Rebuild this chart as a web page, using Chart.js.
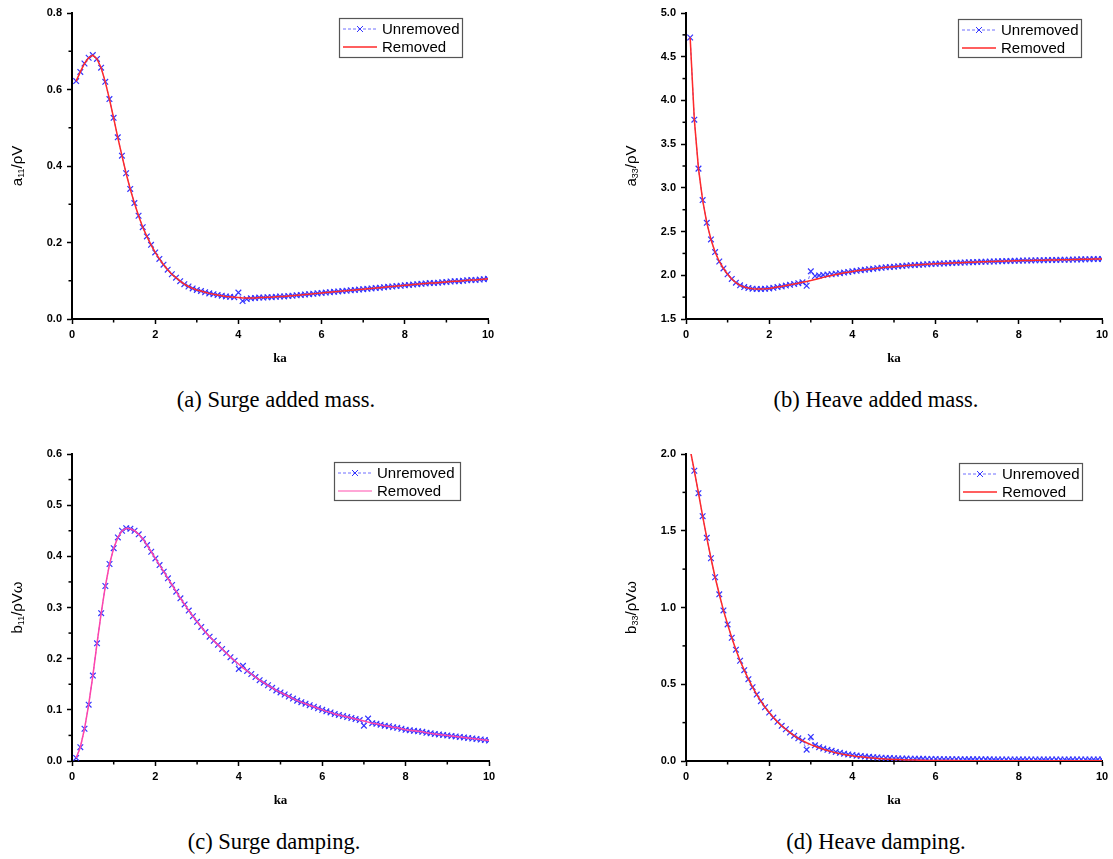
<!DOCTYPE html>
<html>
<head>
<meta charset="utf-8">
<script src="https://cdn.jsdelivr.net/npm/chart.js@4.4.0/dist/chart.umd.min.js"></script>
<style>
body { margin: 0; background: #fff; width: 1113px; height: 859px; position: relative; overflow: hidden; }
canvas { position: absolute; }
.cap { position: absolute; font-family: "Liberation Serif", "Times New Roman", serif; font-size: 22.5px; color: #000; white-space: nowrap; transform: translate(-50%, -50%); }
</style>
</head>
<body>
<canvas id="ca" width="556" height="380" style="left:0;top:0"></canvas>
<canvas id="cb" width="557" height="380" style="left:556px;top:0"></canvas>
<canvas id="cc" width="556" height="380" style="left:0;top:440px"></canvas>
<canvas id="cd" width="557" height="380" style="left:556px;top:440px"></canvas>
<div class="cap" style="left:276px;top:400px">(a) Surge added mass.</div>
<div class="cap" style="left:876px;top:400px">(b) Heave added mass.</div>
<div class="cap" style="left:274px;top:842px">(c) Surge damping.</div>
<div class="cap" style="left:876px;top:842px">(d) Heave damping.</div>
<script>
// ka 取樣點
const ka = [
  0.1, 0.2, 0.3, 0.4, 0.5, 0.6, 0.7, 0.8, 0.9, 1.0,
  1.1, 1.2, 1.3, 1.4, 1.5, 1.6, 1.7, 1.8, 1.9, 2.0,
  2.1, 2.2, 2.3, 2.4, 2.5, 2.6, 2.7, 2.8, 2.9, 3.0,
  3.1, 3.2, 3.3, 3.4, 3.5, 3.6, 3.7, 3.8, 3.9, 4.0,
  4.1, 4.2, 4.3, 4.4, 4.5, 4.6, 4.7, 4.8, 4.9, 5.0,
  5.1, 5.2, 5.3, 5.4, 5.5, 5.6, 5.7, 5.8, 5.9, 6.0,
  6.1, 6.2, 6.3, 6.4, 6.5, 6.6, 6.7, 6.8, 6.9, 7.0,
  7.1, 7.2, 7.3, 7.4, 7.5, 7.6, 7.7, 7.8, 7.9, 8.0,
  8.1, 8.2, 8.3, 8.4, 8.5, 8.6, 8.7, 8.8, 8.9, 9.0,
  9.1, 9.2, 9.3, 9.4, 9.5, 9.6, 9.7, 9.8, 9.9, 10.0
];

// (a) a11/ρV
const a11Unremoved = [
  0.622, 0.646, 0.668, 0.683, 0.690, 0.680, 0.657, 0.620, 0.575, 0.526,
  0.475, 0.427, 0.381, 0.340, 0.303, 0.270, 0.240, 0.216, 0.194, 0.174,
  0.157, 0.142, 0.129, 0.117, 0.108, 0.099, 0.091, 0.085, 0.080, 0.076,
  0.073, 0.070, 0.067, 0.065, 0.063, 0.061, 0.059, 0.058, 0.057, 0.069,
  0.047, 0.052, 0.054, 0.055, 0.056, 0.056, 0.057, 0.057, 0.058, 0.059,
  0.059, 0.060, 0.061, 0.062, 0.063, 0.064, 0.065, 0.066, 0.067, 0.068,
  0.069, 0.070, 0.071, 0.072, 0.073, 0.074, 0.075, 0.076, 0.077, 0.078,
  0.079, 0.080, 0.081, 0.082, 0.083, 0.084, 0.085, 0.086, 0.087, 0.088,
  0.089, 0.090, 0.091, 0.092, 0.093, 0.094, 0.094, 0.095, 0.096, 0.097,
  0.098, 0.099, 0.099, 0.100, 0.101, 0.102, 0.102, 0.103, 0.104, 0.105
];
const a11Removed = [
  0.622, 0.646, 0.668, 0.683, 0.690, 0.680, 0.657, 0.620, 0.575, 0.526,
  0.475, 0.427, 0.381, 0.340, 0.303, 0.270, 0.240, 0.216, 0.194, 0.174,
  0.157, 0.142, 0.129, 0.117, 0.108, 0.099, 0.091, 0.085, 0.080, 0.076,
  0.073, 0.070, 0.067, 0.065, 0.063, 0.061, 0.059, 0.058, 0.057, 0.056,
  0.055, 0.055, 0.055, 0.055, 0.056, 0.056, 0.057, 0.057, 0.058, 0.059,
  0.059, 0.060, 0.061, 0.062, 0.063, 0.064, 0.065, 0.066, 0.067, 0.068,
  0.069, 0.070, 0.071, 0.072, 0.073, 0.074, 0.075, 0.076, 0.077, 0.078,
  0.079, 0.080, 0.081, 0.082, 0.083, 0.084, 0.085, 0.086, 0.087, 0.088,
  0.089, 0.090, 0.091, 0.092, 0.093, 0.094, 0.094, 0.095, 0.096, 0.097,
  0.098, 0.099, 0.099, 0.100, 0.101, 0.102, 0.102, 0.103, 0.104, 0.105
];

// (b) a33/ρV
const a33Unremoved = [
  4.720, 3.780, 3.220, 2.860, 2.600, 2.410, 2.265, 2.158, 2.078, 2.012,
  1.958, 1.915, 1.885, 1.866, 1.854, 1.847, 1.843, 1.842, 1.845, 1.850,
  1.857, 1.865, 1.873, 1.882, 1.891, 1.900, 1.910, 1.920, 1.880, 2.045,
  1.992, 1.998, 2.004, 2.008, 2.012, 2.018, 2.024, 2.031, 2.038, 2.045,
  2.051, 2.058, 2.064, 2.070, 2.076, 2.081, 2.086, 2.091, 2.095, 2.099,
  2.103, 2.107, 2.111, 2.114, 2.117, 2.120, 2.123, 2.126, 2.129, 2.131,
  2.134, 2.136, 2.138, 2.140, 2.142, 2.144, 2.146, 2.148, 2.150, 2.152,
  2.154, 2.155, 2.157, 2.158, 2.160, 2.161, 2.163, 2.164, 2.165, 2.167,
  2.168, 2.169, 2.170, 2.171, 2.172, 2.173, 2.174, 2.175, 2.176, 2.177,
  2.178, 2.179, 2.180, 2.181, 2.182, 2.183, 2.184, 2.185, 2.186, 2.187
];
const a33Removed = [
  4.720, 3.780, 3.220, 2.860, 2.600, 2.410, 2.265, 2.158, 2.078, 2.012,
  1.958, 1.915, 1.885, 1.866, 1.854, 1.847, 1.843, 1.842, 1.845, 1.850,
  1.857, 1.865, 1.873, 1.882, 1.891, 1.900, 1.910, 1.920, 1.930, 1.940,
  1.952, 1.964, 1.976, 1.988, 1.998, 2.008, 2.018, 2.028, 2.036, 2.044,
  2.051, 2.058, 2.064, 2.070, 2.076, 2.081, 2.086, 2.091, 2.095, 2.099,
  2.103, 2.107, 2.111, 2.114, 2.117, 2.120, 2.123, 2.126, 2.129, 2.131,
  2.134, 2.136, 2.138, 2.140, 2.142, 2.144, 2.146, 2.148, 2.150, 2.152,
  2.154, 2.155, 2.157, 2.158, 2.160, 2.161, 2.163, 2.164, 2.165, 2.167,
  2.168, 2.169, 2.170, 2.171, 2.172, 2.173, 2.174, 2.175, 2.176, 2.177,
  2.178, 2.179, 2.180, 2.181, 2.182, 2.183, 2.184, 2.185, 2.186, 2.187
];

// (c) b11/ρVω
const b11Unremoved = [
  0.006, 0.027, 0.063, 0.110, 0.167, 0.230, 0.289, 0.342, 0.385, 0.416,
  0.437, 0.450, 0.455, 0.454, 0.450, 0.443, 0.434, 0.422, 0.409, 0.396,
  0.383, 0.370, 0.357, 0.344, 0.331, 0.318, 0.306, 0.294, 0.283, 0.272,
  0.262, 0.252, 0.243, 0.235, 0.227, 0.219, 0.211, 0.203, 0.196, 0.180,
  0.186, 0.176, 0.170, 0.164, 0.158, 0.153, 0.148, 0.143, 0.138, 0.134,
  0.130, 0.126, 0.122, 0.118, 0.115, 0.112, 0.109, 0.106, 0.103, 0.100,
  0.097, 0.095, 0.092, 0.090, 0.088, 0.086, 0.084, 0.082, 0.080, 0.069,
  0.083, 0.074, 0.073, 0.071, 0.069, 0.068, 0.066, 0.065, 0.063, 0.061,
  0.060, 0.059, 0.058, 0.057, 0.055, 0.054, 0.053, 0.052, 0.051, 0.050,
  0.049, 0.048, 0.047, 0.046, 0.045, 0.044, 0.043, 0.042, 0.041, 0.040
];
const b11Removed = [
  0.006, 0.027, 0.063, 0.110, 0.167, 0.230, 0.289, 0.342, 0.385, 0.416,
  0.437, 0.450, 0.455, 0.454, 0.450, 0.443, 0.434, 0.422, 0.409, 0.396,
  0.383, 0.370, 0.357, 0.344, 0.331, 0.318, 0.306, 0.294, 0.283, 0.272,
  0.262, 0.252, 0.243, 0.235, 0.227, 0.219, 0.211, 0.203, 0.196, 0.189,
  0.182, 0.176, 0.170, 0.164, 0.158, 0.153, 0.148, 0.143, 0.138, 0.134,
  0.130, 0.126, 0.122, 0.118, 0.115, 0.112, 0.109, 0.106, 0.103, 0.100,
  0.097, 0.095, 0.092, 0.090, 0.088, 0.086, 0.084, 0.082, 0.080, 0.078,
  0.076, 0.074, 0.073, 0.071, 0.069, 0.068, 0.066, 0.065, 0.063, 0.061,
  0.060, 0.059, 0.058, 0.057, 0.055, 0.054, 0.053, 0.052, 0.051, 0.050,
  0.049, 0.048, 0.047, 0.046, 0.045, 0.044, 0.043, 0.042, 0.041, 0.040
];

// (d) b33/ρVω
const b33Unremoved = [
  2.030, 1.891, 1.745, 1.595, 1.454, 1.321, 1.197, 1.086, 0.981, 0.890,
  0.803, 0.725, 0.653, 0.592, 0.533, 0.481, 0.433, 0.390, 0.350, 0.316,
  0.283, 0.255, 0.229, 0.207, 0.185, 0.165, 0.148, 0.133, 0.074, 0.157,
  0.102, 0.090, 0.081, 0.073, 0.066, 0.059, 0.053, 0.048, 0.043, 0.039,
  0.035, 0.032, 0.029, 0.027, 0.025, 0.023, 0.021, 0.020, 0.019, 0.018,
  0.017, 0.016, 0.016, 0.015, 0.015, 0.014, 0.014, 0.013, 0.013, 0.013,
  0.012, 0.012, 0.012, 0.012, 0.012, 0.011, 0.011, 0.011, 0.011, 0.011,
  0.011, 0.011, 0.011, 0.010, 0.010, 0.010, 0.010, 0.010, 0.010, 0.010,
  0.010, 0.010, 0.010, 0.010, 0.010, 0.010, 0.010, 0.010, 0.010, 0.010,
  0.010, 0.010, 0.010, 0.010, 0.010, 0.010, 0.010, 0.010, 0.010, 0.010
];
const b33Removed = [
  2.030, 1.891, 1.745, 1.595, 1.454, 1.321, 1.197, 1.086, 0.981, 0.890,
  0.803, 0.725, 0.653, 0.592, 0.533, 0.481, 0.433, 0.390, 0.350, 0.316,
  0.283, 0.255, 0.229, 0.207, 0.185, 0.165, 0.148, 0.133, 0.119, 0.107,
  0.096, 0.086, 0.077, 0.069, 0.061, 0.054, 0.048, 0.043, 0.038, 0.034,
  0.030, 0.027, 0.024, 0.021, 0.019, 0.017, 0.015, 0.013, 0.012, 0.010,
  0.009, 0.008, 0.007, 0.006, 0.006, 0.005, 0.005, 0.004, 0.004, 0.003,
  0.003, 0.003, 0.003, 0.003, 0.003, 0.002, 0.002, 0.002, 0.002, 0.002,
  0.002, 0.002, 0.002, 0.002, 0.002, 0.001, 0.001, 0.001, 0.001, 0.001,
  0.001, 0.001, 0.001, 0.001, 0.001, 0.001, 0.001, 0.001, 0.001, 0.001,
  0.001, 0.001, 0.001, 0.001, 0.001, 0.001, 0.001, 0.001, 0.001, 0.001
];

const xMinor = [1, 3, 5, 7, 9];
const BLUE_LINE = '#6f6fff';
const BLUE_MARK = '#3434ff';
const SANS = '"Liberation Sans", Arial, sans-serif';
const SERIF = '"Liberation Serif", "Times New Roman", serif';

Chart.defaults.font.family = SANS;

// 畫 y 軸標題 (含下標)
function drawYTitle(ctx, parts, cx, cy) {
    ctx.save();
    ctx.translate(cx, cy);
    ctx.rotate(-Math.PI / 2);
    const big = '15px ' + SANS;
    const small = '9px ' + SANS;
    let total = 0;
    parts.forEach(p => { ctx.font = p.sub ? small : big; total += ctx.measureText(p.t).width; });
    let x = -total / 2;
    ctx.textAlign = 'left';
    ctx.textBaseline = 'middle';
    ctx.fillStyle = '#000';
    parts.forEach(p => {
        ctx.font = p.sub ? small : big;
        ctx.fillText(p.t, x, p.sub ? 4 : 0);
        x += ctx.measureText(p.t).width;
    });
    ctx.restore();
}

// 副刻度、軸標題與圖例
const extras = {
    id: 'extras',
    afterDraw(chart, args, o) {
        const ctx = chart.ctx;
        const xs = chart.scales.x, ys = chart.scales.y, area = chart.chartArea;
        ctx.save();
        ctx.strokeStyle = '#000';
        ctx.lineWidth = 1.5;
        xMinor.forEach(v => {
            const px = xs.getPixelForValue(v);
            ctx.beginPath(); ctx.moveTo(px, area.bottom); ctx.lineTo(px, area.bottom + 3.5); ctx.stroke();
        });
        o.yMinor.forEach(v => {
            const py = ys.getPixelForValue(v);
            ctx.beginPath(); ctx.moveTo(area.left, py); ctx.lineTo(area.left - 3.5, py); ctx.stroke();
        });

        ctx.fillStyle = '#000';
        ctx.font = 'bold 13px ' + SERIF;
        ctx.textAlign = 'center';
        ctx.textBaseline = 'middle';
        ctx.fillText('ka', (area.left + area.right) / 2, area.bottom + 40);

        drawYTitle(ctx, o.yTitle, area.left - 54, (area.top + area.bottom) / 2);

        // 圖例
        const b = o.legend;
        ctx.strokeStyle = '#555';
        ctx.lineWidth = 1.2;
        ctx.strokeRect(b.x + 0.5, b.y + 0.5, b.w, b.h);
        const r1 = b.y + 11, r2 = b.y + 29;
        ctx.strokeStyle = BLUE_LINE;
        ctx.lineWidth = 1;
        ctx.setLineDash([3, 2]);
        ctx.beginPath(); ctx.moveTo(b.x + 4, r1); ctx.lineTo(b.x + 38, r1); ctx.stroke();
        ctx.setLineDash([]);
        const mx = b.x + 21;
        ctx.strokeStyle = BLUE_MARK;
        ctx.beginPath();
        ctx.moveTo(mx - 3, r1 - 3); ctx.lineTo(mx + 3, r1 + 3);
        ctx.moveTo(mx - 3, r1 + 3); ctx.lineTo(mx + 3, r1 - 3);
        ctx.stroke();
        ctx.strokeStyle = o.legendRed;
        ctx.lineWidth = 1.5;
        ctx.beginPath(); ctx.moveTo(b.x + 4, r2); ctx.lineTo(b.x + 38, r2); ctx.stroke();
        ctx.fillStyle = '#000';
        ctx.font = '15px ' + SANS;
        ctx.textAlign = 'left';
        ctx.fillText('Unremoved', b.x + 43, r1 + 1);
        ctx.fillText('Removed', b.x + 43, r2 + 1);
        ctx.restore();
    }
};

function makeChart(id, p) {
    const canvas = document.getElementById(id);
    const toPts = arr => ka.map((x, i) => ({ x: x, y: arr[i] }));
    return new Chart(canvas, {
        type: 'line',
        data: {
            datasets: [
                {
                    label: 'Removed',
                    data: toPts(p.removed),
                    borderColor: p.red,
                    borderWidth: 1.5,
                    pointRadius: 0,
                    tension: 0,
                    order: 0
                },
                {
                    label: 'Unremoved',
                    data: toPts(p.unremoved),
                    borderColor: BLUE_LINE,
                    borderWidth: 1,
                    borderDash: [3, 2],
                    pointStyle: 'crossRot',
                    pointRadius: 4,
                    pointBorderColor: BLUE_MARK,
                    pointBorderWidth: 1.2,
                    tension: 0,
                    order: 1
                }
            ]
        },
        options: {
            responsive: false,
            animation: false,
            devicePixelRatio: 1,
            layout: { padding: { left: 0, top: p.top, right: p.right, bottom: 0 } },
            plugins: {
                legend: { display: false },
                tooltip: { enabled: false },
                extras: { yMinor: p.yMinor, yTitle: p.yTitle, legend: p.legend, legendRed: p.legendRed || p.red }
            },
            scales: {
                x: {
                    type: 'linear', min: 0, max: 10,
                    afterFit: s => { s.height = p.xHeight; },
                    ticks: { stepSize: 2, color: '#000', font: { size: 11, weight: 'bold' }, padding: 4, maxRotation: 0,
                        callback: v => String(v) },
                    grid: { drawOnChartArea: false, tickLength: 5, tickColor: '#000', tickWidth: 1.5 },
                    border: { color: '#000', width: 2 }
                },
                y: {
                    min: p.yMin, max: p.yMax,
                    afterFit: s => { s.width = p.yWidth; },
                    ticks: { stepSize: p.yStep, color: '#000', font: { size: 11, weight: 'bold' }, padding: 5,
                        callback: v => Number(v).toFixed(1) },
                    grid: { drawOnChartArea: false, tickLength: 5, tickColor: '#000', tickWidth: 1.5 },
                    border: { color: '#000', width: 2 }
                }
            }
        },
        plugins: [extras]
    });
}

makeChart('ca', {
    removed: a11Removed, unremoved: a11Unremoved, red: '#ff2a2a',
    yMin: 0, yMax: 0.8, yStep: 0.2, yMinor: [0.1, 0.3, 0.5, 0.7],
    yTitle: [{ t: 'a' }, { t: '11', sub: true }, { t: '/\u03c1V' }],
    top: 13, right: 68, yWidth: 72, xHeight: 61,
    legend: { x: 339, y: 18, w: 123, h: 39 }
});
makeChart('cb', {
    removed: a33Removed, unremoved: a33Unremoved, red: '#ff2a2a',
    yMin: 1.5, yMax: 5.0, yStep: 0.5, yMinor: [1.75, 2.25, 2.75, 3.25, 3.75, 4.25, 4.75],
    yTitle: [{ t: 'a' }, { t: '33', sub: true }, { t: '/\u03c1V' }],
    top: 13, right: 11, yWidth: 130, xHeight: 61,
    legend: { x: 402, y: 19, w: 123, h: 38 }
});
makeChart('cc', {
    removed: b11Removed, unremoved: b11Unremoved, red: '#ff44aa', legendRed: '#ff88c8',
    yMin: 0, yMax: 0.6, yStep: 0.1, yMinor: [0.05, 0.15, 0.25, 0.35, 0.45, 0.55],
    yTitle: [{ t: 'b' }, { t: '11', sub: true }, { t: '/\u03c1V\u03c9' }],
    top: 14, right: 67, yWidth: 72, xHeight: 59,
    legend: { x: 334, y: 22, w: 126, h: 38 }
});
makeChart('cd', {
    removed: b33Removed, unremoved: b33Unremoved, red: '#ff2a2a',
    yMin: 0, yMax: 2.0, yStep: 0.5, yMinor: [0.25, 0.75, 1.25, 1.75],
    yTitle: [{ t: 'b' }, { t: '33', sub: true }, { t: '/\u03c1V\u03c9' }],
    top: 14, right: 11, yWidth: 130, xHeight: 59,
    legend: { x: 403, y: 23, w: 123, h: 37 }
});
</script>
</body>
</html>
